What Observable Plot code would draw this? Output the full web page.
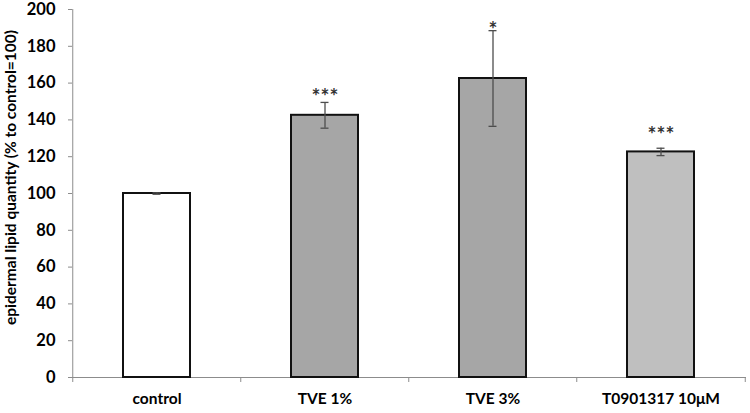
<!DOCTYPE html>
<html><head><meta charset="utf-8">
<script src="https://cdn.jsdelivr.net/npm/d3@7"></script>
<script src="https://cdn.jsdelivr.net/npm/@observablehq/plot@0.6"></script>
<style>body{margin:0;background:#fff}</style>
</head><body><div id="chart"></div>
<script>
const categories = ["control", "TVE 1%", "TVE 3%", "T0901317 10μM"];
const means = [100, 142.5, 162.5, 122.6];
const errors = [0.4, 7, 26, 2];
const stars = ["", "***", "*", "***"];
const starY = [null, 155, 191.5, 134.5];
const fills = ["#ffffff", "#a6a6a6", "#a6a6a6", "#bfbfbf"];
const yTicks = [0, 20, 40, 60, 80, 100, 120, 140, 160, 180, 200];
const yLabel = "epidermal lipid quantity (% to control=100)";

const rows = categories.map((c, i) => ({
  cat: c, mean: means[i], err: errors[i], star: stars[i], starY: starY[i], fill: fills[i]
}));

const W = 750, H = 413, ML = 72, MR = 4, MT = 9, MB = 36;
const step = (W - ML - MR) / categories.length;
const axisGray = "#8c8c8c";

const chart = Plot.plot({
  width: W, height: H,
  marginLeft: ML, marginRight: MR, marginTop: MT, marginBottom: MB,
  style: {fontFamily: "Lato, 'Open Sans', sans-serif", fontWeight: "bold", fontSize: "16px", color: "#000", background: "#fff"},
  x: {type: "band", domain: categories, paddingInner: 0.6, paddingOuter: 0.3, axis: null, label: null},
  y: {domain: [0, 200], axis: null, label: null},
  marks: [
    Plot.ruleX([categories[0]], {x: d => d, dx: -step / 2, stroke: axisGray, strokeWidth: 1, insetBottom: -5}),
    Plot.ruleX(categories.slice(1), {x: d => d, dx: -step / 2, stroke: axisGray, insetTop: H - MT - MB, insetBottom: -5}),
    Plot.ruleX([categories[categories.length - 1]], {x: d => d, dx: step / 2, stroke: axisGray, insetTop: H - MT - MB, insetBottom: -5}),
    Plot.ruleY([0], {stroke: axisGray}),
    Plot.axisY({ticks: yTicks, tickSize: 4, tickPadding: 13, stroke: axisGray, fill: "#000", fontSize: 16.5, label: null}),
    Plot.axisX({tickSize: 0, tickPadding: 15, fill: "#000", fontSize: 15.5, label: null}),
    Plot.text([yLabel], {frameAnchor: "left", dx: -61, dy: -16, rotate: -90, textAnchor: "middle", fontSize: 15.5, fill: "#000"}),
    Plot.barY(rows, {x: "cat", y: "mean", fill: "fill", stroke: "#111", strokeWidth: 2}),
    Plot.ruleX(rows, {x: "cat", y1: d => d.mean - d.err, y2: d => d.mean + d.err, stroke: "#4d4d4d", strokeWidth: 1.3}),
    Plot.tickY(rows, {x: "cat", y: d => d.mean + d.err, stroke: "#4d4d4d", strokeWidth: 1.3, insetLeft: 29.5, insetRight: 29.5}),
    Plot.tickY(rows, {x: "cat", y: d => d.mean - d.err, stroke: "#4d4d4d", strokeWidth: 1.3, insetLeft: 29.5, insetRight: 29.5}),
    Plot.text(rows.filter(d => d.star), {x: "cat", y: "starY", text: "star", fill: "#333", fontSize: 21, lineAnchor: "middle", dy: 5, fontWeight: "bold"})
  ]
});
document.getElementById("chart").append(chart);
</script>
</body></html>
